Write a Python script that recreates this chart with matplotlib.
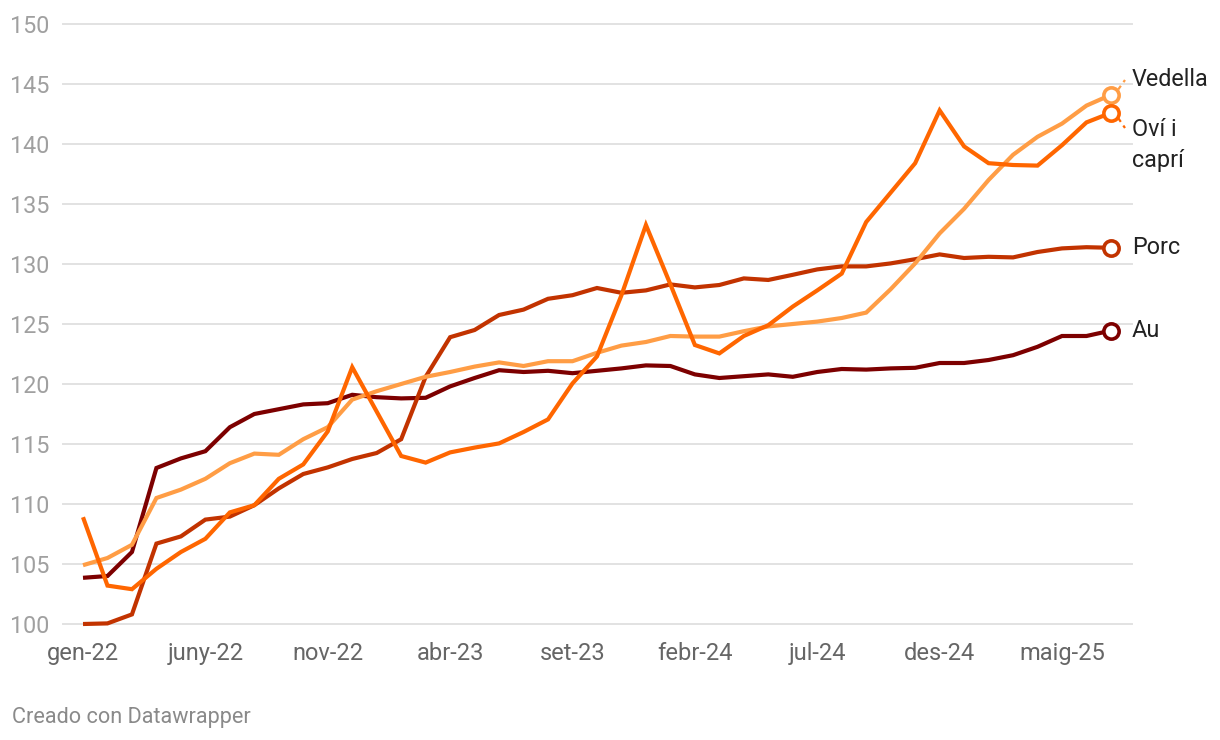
import matplotlib
matplotlib.use("Agg")
import matplotlib.pyplot as plt
import numpy as np

plt.rcParams['font.family'] = ['Roboto', 'DejaVu Sans']

tick_labels = ["gen-22", "juny-22", "nov-22", "abr-23", "set-23", "febr-24", "jul-24", "des-24", "maig-25"]
tick_months = [0, 5, 10, 15, 20, 25, 30, 35, 40]

vedella = [104.9, 105.5, 106.6, 110.5, 111.2, 112.1, 113.4, 114.2, 114.1, 115.4,
           116.4, 118.7, 119.4, 120.0, 120.6, 121.0, 121.45, 121.8, 121.5, 121.9,
           121.9, 122.6, 123.2, 123.5, 124.0, 123.95, 123.95, 124.4, 124.8, 125.0,
           125.2, 125.5, 125.95, 127.9, 130.05, 132.55, 134.6, 137.0, 139.1, 140.6,
           141.7, 143.2, 144.1]
ovi = [108.9, 103.2, 102.9, 104.6, 106.0, 107.1, 109.3, 109.9, 112.1, 113.3,
       116.05, 121.4, 117.7, 114.0, 113.45, 114.3, 114.7, 115.05, 116.0, 117.05,
       120.05, 122.3, 127.4, 133.25, 128.3, 123.25, 122.55, 124.0, 124.9, 126.45,
       127.8, 129.2, 133.5, 135.95, 138.4, 142.8, 139.8, 138.4, 138.25, 138.2,
       139.9, 141.8, 142.6]
porc = [100.0, 100.05, 100.8, 106.7, 107.3, 108.7, 108.95, 109.9, 111.3, 112.5,
        113.05, 113.75, 114.25, 115.4, 120.6, 123.9, 124.5, 125.75, 126.2, 127.1,
        127.4, 128.0, 127.6, 127.8, 128.3, 128.05, 128.25, 128.8, 128.67, 129.1,
        129.55, 129.8, 129.8, 130.05, 130.4, 130.8, 130.5, 130.6, 130.55, 131.0,
        131.3, 131.4, 131.35]
au = [103.85, 104.0, 106.0, 113.0, 113.8, 114.4, 116.4, 117.5, 117.9, 118.3,
      118.4, 119.1, 118.9, 118.8, 118.85, 119.8, 120.5, 121.15, 121.0, 121.1,
      120.9, 121.1, 121.3, 121.55, 121.5, 120.8, 120.5, 120.65, 120.8, 120.6,
      121.0, 121.25, 121.2, 121.3, 121.35, 121.75, 121.75, 122.0, 122.4, 123.1,
      124.0, 124.0, 124.45]

series = [
    ("Au", au, "#7d0000"),
    ("Porc", porc, "#c23300"),
    ("Vedella", vedella, "#ff9d45"),
    ("Oví i\ncaprí", ovi, "#ff6600"),
]

fig = plt.figure(figsize=(12.2, 7.4), dpi=100)
W, H = 1220, 740
ax = fig.add_axes([63 / W, 1 - 624 / H, (1132 - 63) / W, (624 - 24) / H])

months = np.arange(len(vedella))
x0 = -20 / 24.475
x1 = (1132 - 83) / 24.475
ax.set_xlim(x0, x1)
ax.set_ylim(100, 150)

for v in range(100, 151, 5):
    ax.axhline(v, color="#e2e2e2", lw=1.4, zorder=0, clip_on=False)

for name, vals, col in series:
    ax.plot(months, vals, color=col, lw=3, zorder=3, clip_on=False,
            solid_joinstyle='miter', solid_capstyle='butt')
    ax.plot([months[-1]], [vals[-1]], marker='o', ms=11, mfc='white', mec=col,
            mew=2.6, zorder=4, clip_on=False)

label_pos = {"Au": (124.45, None), "Porc": (131.35, None),
             "Vedella": (145.35, (1125, 80)), "Oví i\ncaprí": (139.95, (1125, 128))}
for name, vals, col in series:
    ly, conn = label_pos[name]
    ax.text(x1, ly, name, fontsize=16.8, color="#222222",
            va='center', ha='left', linespacing=1.45, clip_on=False)
    if conn is not None:
        cx = (conn[0] - 83) / 24.475
        cy = 100 + (624 - conn[1]) / 12
        ax.plot([months[-1] + 0.3, cx], [vals[-1] + (0.45 if cy > vals[-1] else -0.45), cy],
                color=col, lw=1.6, ls=(0, (2, 2)), clip_on=False, zorder=2)

ax.set_yticks(range(100, 151, 5))
ax.set_yticklabels([str(v) for v in range(100, 151, 5)], fontsize=16.8, color="#a0a0a0")
ax.set_xticks(tick_months)
ax.set_xticklabels(tick_labels, fontsize=17, color="#666666")
ax.tick_params(axis='both', length=0)
ax.tick_params(axis='y', pad=9.5)
ax.tick_params(axis='x', pad=13)
for s in ax.spines.values():
    s.set_visible(False)

fig.text(12 / W, 1 - 717 / H, "Creado con Datawrapper", fontsize=15.6, color="#8a8a8a",
         ha='left', va='center')

fig.savefig("out.png", dpi=100, facecolor='white')
